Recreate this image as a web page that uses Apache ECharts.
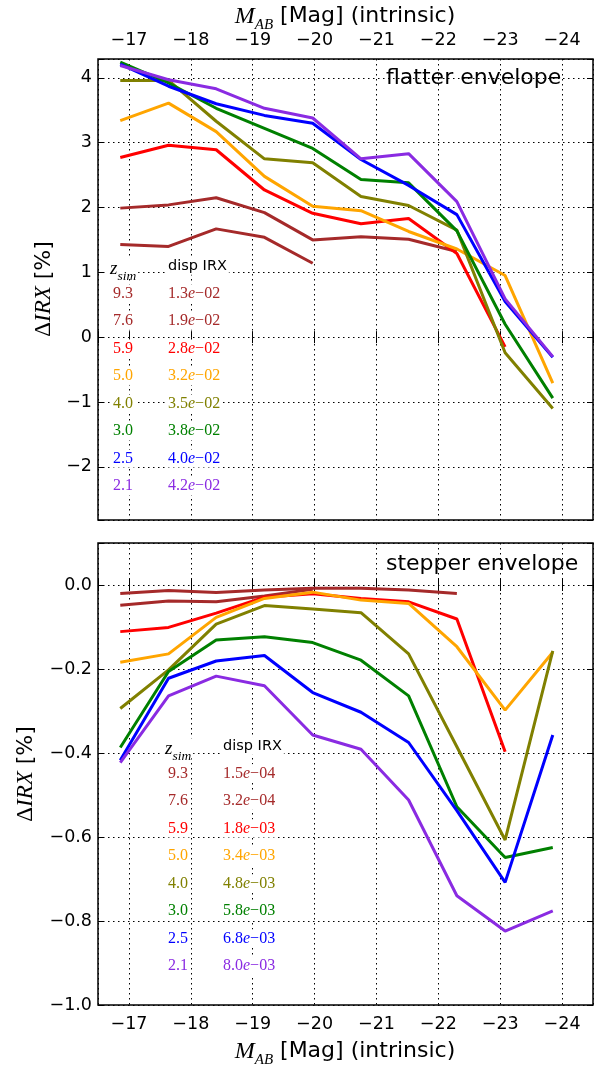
<!DOCTYPE html>
<html>
<head>
<meta charset="utf-8">
<script src="https://cdn.jsdelivr.net/npm/echarts@6/dist/echarts.min.js"></script>
<style>
  html, body { margin: 0; padding: 0; background: #fff; }
  #chart { width: 601px; height: 1068px; }
</style>
</head>
<body>
<div id="chart"></div>
<script>
// Intrinsic magnitude bin centres
const xMag = [-16.86, -17.64, -18.41, -19.19, -19.97, -20.75, -21.52, -22.30, -23.08, -23.85];

// Simulation redshifts, colours and IRX dispersions per redshift
const zSim = ['9.3', '7.6', '5.9', '5.0', '4.0', '3.0', '2.5', '2.1'];
const lineColors = ['#a52a2a', '#a52a2a', '#ff0000', '#ffa500', '#808000', '#008000', '#0000ff', '#8a2be2'];
const dispFlat = ['1.3e-02', '1.9e-02', '2.8e-02', '3.2e-02', '3.5e-02', '3.8e-02', '4.0e-02', '4.2e-02'];
const dispStep = ['1.5e-04', '3.2e-04', '1.8e-03', '3.4e-03', '4.8e-03', '5.8e-03', '6.8e-03', '8.0e-03'];

// Delta IRX [%], flatter envelope
const flat93 = [1.43, 1.40, 1.67, 1.54, 1.14];
const flat76 = [1.99, 2.04, 2.15, 1.92, 1.50, 1.55, 1.51, 1.32];
const flat59 = [2.77, 2.96, 2.89, 2.27, 1.91, 1.75, 1.83, 1.29, -0.15];
const flat50 = [3.34, 3.61, 3.17, 2.48, 2.02, 1.95, 1.63, 1.36, 0.95, -0.71];
const flat40 = [3.96, 3.96, 3.33, 2.75, 2.69, 2.17, 2.03, 1.65, -0.24, -1.10];
const flat30 = [4.24, 3.92, 3.53, 3.22, 2.91, 2.43, 2.38, 1.64, 0.20, -0.94];
const flat25 = [4.21, 3.87, 3.60, 3.42, 3.30, 2.74, 2.34, 1.89, 0.55, -0.31];
const flat21 = [4.19, 3.97, 3.83, 3.53, 3.38, 2.75, 2.83, 2.09, 0.59, -0.30];

// Delta IRX [%], stepper envelope
const step93 = [-0.048, -0.038, -0.040, -0.026, -0.010];
const step76 = [-0.020, -0.013, -0.018, -0.012, -0.008, -0.008, -0.012, -0.020];
const step59 = [-0.111, -0.101, -0.067, -0.029, -0.021, -0.032, -0.040, -0.081, -0.397];
const step50 = [-0.184, -0.164, -0.077, -0.032, -0.017, -0.036, -0.044, -0.147, -0.298, -0.160];
const step40 = [-0.294, -0.202, -0.093, -0.049, -0.057, -0.066, -0.164, -0.385, -0.607, -0.157];
const step30 = [-0.387, -0.206, -0.131, -0.123, -0.137, -0.179, -0.264, -0.528, -0.649, -0.625];
const step25 = [-0.417, -0.222, -0.181, -0.168, -0.256, -0.303, -0.375, -0.537, -0.708, -0.357];
const step21 = [-0.423, -0.264, -0.217, -0.240, -0.357, -0.391, -0.512, -0.740, -0.824, -0.776];

const flatSets = [flat93, flat76, flat59, flat50, flat40, flat30, flat25, flat21];
const stepSets = [step93, step76, step59, step50, step40, step30, step25, step21];

const MINUS = '\u2212';
const SANS = 'DejaVu Sans';
const SERIF = 'Liberation Serif';

function near(v, step) {
  return Math.abs(v / step - Math.round(v / step)) < 1e-6;
}
function intLabel(v) {
  if (!near(v, 1)) return '';
  const r = Math.round(v);
  return r < 0 ? MINUS + Math.abs(r) : String(r);
}
function bottomYLabel(v) {
  if (!near(v, 0.2)) return '';
  const r = Math.round(v / 0.2) * 0.2;
  if (Math.abs(r) < 1e-9) return '0.0';
  return (r < 0 ? MINUS : '') + Math.abs(r).toFixed(1);
}

const tickStyle = { inside: true, length: 6, lineStyle: { color: '#000', width: 1 } };
const gridLine = { show: true, lineStyle: { color: '#000', width: 1, type: [1.5, 3.5] } };
const labelFont = { fontFamily: SANS, fontSize: 17.5, color: '#000' };

function xAxisDef(grid, pos, labelled) {
  return {
    type: 'value', gridIndex: grid, position: pos,
    min: -24.5, max: -16.5, inverse: true, splitNumber: 8,
    axisLine: { show: false },
    axisTick: tickStyle,
    axisLabel: labelled ? Object.assign({ formatter: intLabel, margin: 10 }, labelFont) : { show: false },
    splitLine: labelled ? gridLine : { show: false }
  };
}
function yAxisDef(grid, pos, labelled, min, max, split, fmt) {
  return {
    type: 'value', gridIndex: grid, position: pos,
    min: min, max: max, splitNumber: split,
    axisLine: { show: false },
    axisTick: tickStyle,
    axisLabel: labelled ? Object.assign({ formatter: fmt, margin: 6 }, labelFont) : { show: false },
    splitLine: labelled ? gridLine : { show: false }
  };
}

const series = [];
function addSeries(sets, xIdx, yIdx) {
  sets.forEach((vals, k) => {
    series.push({
      type: 'line', xAxisIndex: xIdx, yAxisIndex: yIdx,
      name: zSim[k], symbol: 'none', showSymbol: false,
      lineStyle: { color: lineColors[k], width: 3 },
      itemStyle: { color: lineColors[k] },
      data: vals.map((v, i) => [xMag[i], v]),
      z: 3 + k
    });
  });
}
addSeries(flatSets, 0, 0);
addSeries(stepSets, 2, 2);

// Legend tables drawn as text on white boxes: redshift and dispersion per line
function dispRich(s) {
  const parts = s.split('e');
  return '{n|' + parts[0] + '}{e|e}{n|' + parts[1].replace('-', MINUS) + '}';
}
function boxed(style) {
  return Object.assign({
    backgroundColor: '#fff', padding: [1, 2],
    textBackgroundColor: '#fff', textPadding: [1, 2],
    align: 'left', verticalAlign: 'middle', textAlign: 'left', textVerticalAlign: 'middle'
  }, style);
}
function legendBlock(x0, y0, disp) {
  const items = [];
  items.push({
    type: 'text', x: x0 - 2, y: y0 - 25, z: 100,
    style: boxed({
      text: '{z|z}{s|sim}', fill: '#000',
      rich: {
        z: { fontFamily: SERIF, fontStyle: 'italic', fontSize: 19, lineHeight: 18, verticalAlign: 'top', fill: '#000' },
        s: { fontFamily: SERIF, fontStyle: 'italic', fontSize: 13.5, lineHeight: 13, padding: [10, 0, 0, 0], verticalAlign: 'top', fill: '#000' }
      }
    })
  });
  items.push({
    type: 'text', x: x0 + 56, y: y0 - 27, z: 100,
    style: boxed({ text: 'disp IRX', fill: '#000', font: '14.5px "' + SANS + '"' })
  });
  zSim.forEach((z, k) => {
    const y = y0 + k * 27.55;
    items.push({
      type: 'text', x: x0 + 1, y: y, z: 100,
      style: boxed({ text: z, fill: lineColors[k], font: '16px "' + SERIF + '"' })
    });
    items.push({
      type: 'text', x: x0 + 56, y: y, z: 100,
      style: boxed({
        text: dispRich(disp[k]), fill: lineColors[k],
        rich: {
          n: { fontFamily: SERIF, fontSize: 16, fill: lineColors[k] },
          e: { fontFamily: SERIF, fontStyle: 'italic', fontSize: 16, fill: lineColors[k] }
        }
      })
    });
  });
  return items;
}

const axisNameRich = {
  m: { fontFamily: SERIF, fontStyle: 'italic', fontSize: 24, lineHeight: 24, verticalAlign: 'top', fill: '#000' },
  s: { fontFamily: SERIF, fontStyle: 'italic', fontSize: 15, lineHeight: 15, padding: [13, 0, 0, 0], verticalAlign: 'top', fill: '#000' },
  t: { fontFamily: SANS, fontSize: 22, lineHeight: 24, verticalAlign: 'top', fill: '#000' }
};
const xNameText = '{m|M}{s|AB}{t| [Mag] (intrinsic)}';
const yNameRich = {
  d: { fontFamily: SERIF, fontSize: 23, fill: '#000' },
  i: { fontFamily: SERIF, fontStyle: 'italic', fontSize: 23, fill: '#000' },
  t: { fontFamily: SANS, fontSize: 22, fill: '#000' }
};
const yNameText = '{d|\u0394}{i|IRX}{t| [%]}';

function centered(x, y, text, rich, rot) {
  return {
    type: 'text', x: x, y: y, rotation: rot || 0, z: 100,
    style: {
      text: text, rich: rich, fill: '#000',
      align: 'center', verticalAlign: 'middle', textAlign: 'center', textVerticalAlign: 'middle'
    }
  };
}
function panelTitle(x, y, text) {
  return {
    type: 'text', x: x, y: y, z: 100,
    style: {
      text: text, fill: '#000', font: '22px "' + SANS + '"',
      align: 'left', verticalAlign: 'middle', textAlign: 'left', textVerticalAlign: 'middle'
    }
  };
}

const graphics = []
  .concat(legendBlock(110, 293.3, dispFlat))
  .concat(legendBlock(165, 773.3, dispStep))
  .concat([
    panelTitle(386, 78, 'flatter envelope'),
    panelTitle(386, 564, 'stepper envelope'),
    centered(345, 17, xNameText, axisNameRich),
    centered(345, 1052, xNameText, axisNameRich),
    centered(44, 289, yNameText, yNameRich, Math.PI / 2),
    centered(26, 774, yNameText, yNameRich, Math.PI / 2)
  ]);

const chart = echarts.init(document.getElementById('chart'), null, { renderer: 'canvas' });
chart.setOption({
  animation: false,
  backgroundColor: '#fff',
  grid: [
    { left: 98, top: 59, width: 495, height: 461, show: true, borderColor: '#000', borderWidth: 1.5, backgroundColor: 'transparent' },
    { left: 98, top: 543, width: 495, height: 462, show: true, borderColor: '#000', borderWidth: 1.5, backgroundColor: 'transparent' }
  ],
  xAxis: [
    xAxisDef(0, 'top', true),
    xAxisDef(0, 'bottom', false),
    xAxisDef(1, 'bottom', true),
    xAxisDef(1, 'top', false)
  ],
  yAxis: [
    yAxisDef(0, 'left', true, -2.82, 4.29, 7, intLabel),
    yAxisDef(0, 'right', false, -2.82, 4.29, 7, intLabel),
    yAxisDef(1, 'left', true, -1.0, 0.1, 5, bottomYLabel),
    yAxisDef(1, 'right', false, -1.0, 0.1, 5, bottomYLabel)
  ],
  series: series,
  graphic: { elements: graphics }
});
</script>
</body>
</html>
